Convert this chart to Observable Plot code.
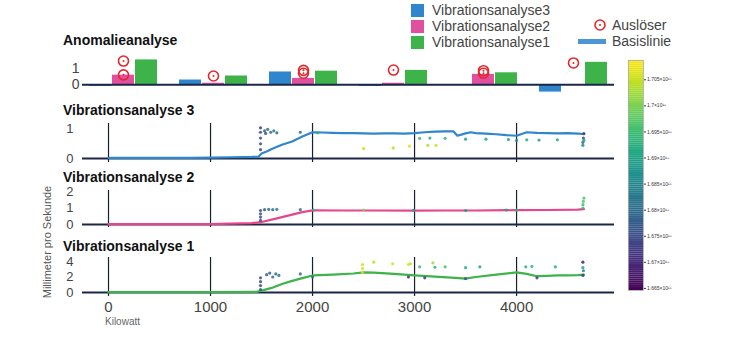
<!DOCTYPE html>
<html><head><meta charset="utf-8">
<script src="https://cdn.jsdelivr.net/npm/d3@7"></script>
<script src="https://cdn.jsdelivr.net/npm/@observablehq/plot@0.6"></script>
<style>
body{margin:0;background:#fff;}
#c{position:relative;width:730px;height:362px;overflow:hidden;font-family:"Liberation Sans",Arial,sans-serif;background:#fff;}
.t{position:absolute;left:63px;font-weight:bold;font-size:14px;color:#111;line-height:12px;white-space:nowrap;}
.lg{position:absolute;font-size:14px;color:#444;line-height:16px;white-space:nowrap;}
.sw{position:absolute;width:13px;height:13px;}
</style>
</head><body><div id="c"></div>
<script>
// ---------- data ----------
const groups = ["1","2","3","4","5","6"];
const series = ["Vibrationsanalyse3","Vibrationsanalyse2","Vibrationsanalyse1"];
const seriesColors = ["#2f86cc","#e0509f","#3db34a"];
const vib3Bars = [-0.1, 0.3, 0.8, -0.1, 0.0, -0.45];
const vib2Bars = [0.6, 0.1, 0.4, 0.1, 0.65, 0.02];
const vib1Bars = [1.55, 0.55, 0.85, 0.9, 0.75, 1.4];
const triggerGroups = ["1","1","2","3","3","4","5","5","6"];
const triggerValues = [0.62, 1.48, 0.55, 0.72, 0.9, 0.92, 0.72, 0.88, 1.36];

const xTicks = [0, 1000, 2000, 3000, 4000];

const vib3LineKW = [0,200,400,600,800,1000,1200,1400,1470,1500,1550,1600,1700,1800,1900,2000,2100,2200,2300,2400,2500,2600,2700,2800,2900,3000,3100,3200,3300,3380,3420,3500,3550,3600,3700,3800,3900,4000,4050,4100,4200,4300,4400,4500,4600,4660];
const vib3LineMM = [0.02,0.02,0.02,0.02,0.02,0.03,0.04,0.05,0.06,0.17,0.24,0.32,0.47,0.58,0.75,0.9,0.89,0.88,0.87,0.87,0.86,0.85,0.86,0.86,0.85,0.87,0.9,0.92,0.93,0.93,0.78,0.86,0.9,0.87,0.85,0.83,0.8,0.78,0.84,0.9,0.88,0.87,0.86,0.87,0.85,0.84];

const vib2LineKW = [0,500,1000,1200,1400,1500,1600,1700,1800,1900,2000,2300,2600,3000,3300,3600,4000,4300,4600,4660];
const vib2LineMM = [0.02,0.02,0.03,0.05,0.09,0.15,0.3,0.45,0.6,0.75,0.86,0.85,0.85,0.84,0.85,0.85,0.87,0.88,0.9,0.93];

const vib1LineKW = [0,500,1000,1450,1500,1600,1700,1800,1900,2000,2200,2400,2500,2600,2800,3000,3200,3400,3500,3600,3800,4000,4100,4200,4300,4400,4500,4600,4660];
const vib1LineMM = [0.05,0.05,0.05,0.1,0.25,0.6,1.1,1.5,1.85,2.2,2.3,2.45,2.6,2.55,2.4,2.2,2.05,1.9,1.8,2.0,2.3,2.6,2.4,2.1,2.15,2.2,2.2,2.25,2.3];

// scatter: kW, mm/s, value (x10^18)
const sc3KW  = [1490,1490,1490,1490,1490,1530,1560,1590,1620,1650,1540,1880,2050,2500,2790,2950,3130,3210,3050,3150,3300,3500,3700,3920,4000,4100,4220,4400,4650,4650,4655,4660,4660];
const sc3MM  = [0.3,0.5,0.7,0.9,1.05,0.95,1.0,0.9,0.95,0.88,0.86,0.9,0.88,0.34,0.36,0.42,0.45,0.45,0.69,0.7,0.69,0.66,0.66,0.65,0.62,0.64,0.63,0.64,0.45,0.55,0.7,0.85,0.62];
const sc3Val = [1.675,1.675,1.675,1.675,1.672,1.678,1.68,1.68,1.682,1.68,1.676,1.68,1.692,1.705,1.704,1.706,1.703,1.705,1.695,1.693,1.694,1.69,1.691,1.69,1.688,1.692,1.69,1.691,1.685,1.68,1.675,1.672,1.69];

const sc2KW  = [1490,1490,1490,1490,1530,1570,1610,1650,1880,2010,2500,2990,3500,3900,4000,4650,4650,4655,4660];
const sc2MM  = [0.25,0.45,0.65,0.85,0.9,0.92,0.9,0.92,0.9,0.88,0.88,0.86,0.85,0.88,0.87,1.0,1.2,1.4,1.6];
const sc2Val = [1.675,1.675,1.675,1.675,1.678,1.68,1.68,1.682,1.68,1.693,1.7,1.69,1.688,1.69,1.693,1.695,1.695,1.697,1.696];

const sc1KW  = [1490,1490,1490,1490,1550,1580,1610,1640,1670,1880,2000,2490,2490,2490,2600,2785,2940,2960,3180,3050,3200,3300,3500,3640,4090,4150,4380,4650,2940,3100,3500,4200,4650,4650,4655];
const sc1MM  = [0.4,0.9,1.4,1.9,2.3,2.5,2.0,2.4,2.2,2.4,2.0,2.6,3.1,3.6,3.9,3.7,3.6,3.7,3.8,3.3,3.25,3.3,3.2,3.3,3.3,3.35,3.3,3.2,2.0,1.9,1.8,1.9,3.9,2.2,2.8];
const sc1Val = [1.675,1.675,1.675,1.675,1.678,1.678,1.68,1.68,1.682,1.68,1.682,1.706,1.706,1.705,1.704,1.705,1.706,1.705,1.703,1.695,1.693,1.695,1.692,1.69,1.693,1.694,1.692,1.69,1.67,1.672,1.675,1.672,1.668,1.672,1.685];

const colorbarTicks = [1.665,1.67,1.675,1.68,1.685,1.69,1.695,1.7,1.705];
const colorDomain = [1.6646, 1.7087];

// ---------- layout helpers ----------
const C = document.getElementById("c");
const FONT = '"Liberation Sans", Arial, sans-serif';
const axisColor = "#1c2748";
const xDomain = [-255, 4960];
function place(svg, top, left = 0) {
  svg.style.position = "absolute";
  svg.style.top = top + "px";
  svg.style.left = left + "px";
  svg.style.background = "transparent";
  svg.style.overflow = "visible";
  svg.style.maxWidth = "none";
  C.appendChild(svg);
}
function addDiv(cls, text, css) {
  const d = document.createElement("div");
  d.className = cls; d.textContent = text;
  Object.assign(d.style, css);
  C.appendChild(d);
  return d;
}

// ---------- top panel: Anomalieanalyse ----------
const barRows = [];
groups.forEach((g, i) => {
  barRows.push({group: g, series: series[0], value: vib3Bars[i]});
  barRows.push({group: g, series: series[1], value: vib2Bars[i]});
  barRows.push({group: g, series: series[2], value: vib1Bars[i]});
});
const trigRows = triggerGroups.map((g, i) => ({group: g, series: series[1], value: triggerValues[i]}));
const topY = {domain: [-0.6, 1.7]};
const topPlot = Plot.plot({
  width: 730, height: 47, marginLeft: 82, marginRight: 116, marginTop: 7, marginBottom: 3,
  style: {fontFamily: FONT, fontSize: "14px", color: "#444"},
  fx: {domain: groups, paddingInner: 0.22, paddingOuter: 0.06, axis: null, label: null},
  x: {domain: series, padding: 0.03, axis: null},
  y: {...topY, ticks: [0, 1], tickFormat: d => String(d), tickSize: 0, tickPadding: 9, label: null},
  color: {domain: series, range: seriesColors},
  marks: [
    Plot.barY(barRows, {fx: "group", x: "series", y: "value", fill: "series"}),
    Plot.dot(trigRows, {fx: "group", x: "series", y: "value", r: 5, stroke: "#e3262c", strokeWidth: 1.6, fill: "none"}),
    Plot.dot(trigRows, {fx: "group", x: "series", y: "value", r: 1, fill: "#e3262c"})
  ]
});
place(topPlot, 50);
const topBase = Plot.plot({
  width: 730, height: 47, marginLeft: 82, marginRight: 116, marginTop: 7, marginBottom: 3,
  x: {domain: [0, 1], axis: null}, y: {...topY, axis: null},
  marks: [Plot.ruleY([0], {stroke: axisColor, strokeWidth: 2})]
});
place(topBase, 50);

// ---------- line panels ----------
function linePanel({top, height, mb, ydom, yticks, kw, mm, color, sKW, sMM, sVal, showX}) {
  const p = Plot.plot({
    width: 730, height, marginLeft: 82, marginRight: 116, marginTop: 5, marginBottom: mb,
    style: {fontFamily: FONT, fontSize: showX ? "15px" : "13px", color: "#444"},
    x: showX ? {domain: xDomain, ticks: xTicks, tickFormat: d => String(d), tickSize: 0, tickPadding: 5, label: null}
             : {domain: xDomain, axis: null},
    y: {domain: ydom, ticks: yticks, tickFormat: d => String(d), tickSize: 0, tickPadding: 9, label: null},
    color: {type: "linear", scheme: "viridis", domain: colorDomain},
    marks: [
      Plot.ruleX(xTicks, {stroke: "#1a1f2e", strokeWidth: 1.2}),
      Plot.ruleY([0], {stroke: axisColor, strokeWidth: 2}),
      Plot.line(kw, {x: kw, y: mm, stroke: color, strokeWidth: 2.2}),
      Plot.dot(sKW, {x: sKW, y: sMM, fill: sVal, r: 1.6, fillOpacity: 0.85})
    ]
  });
  if (showX) {
    // y tick labels at 13px even on the bottom panel
    p.querySelectorAll("[aria-label='y-axis tick label'] text, [aria-label='y-axis'] text").forEach(t => t.setAttribute("font-size", "13"));
  }
  place(p, top);
}
linePanel({top: 118, height: 49, mb: 5, ydom: [-0.14, 1.2], yticks: [0, 1], kw: vib3LineKW, mm: vib3LineMM, color: seriesColors[0], sKW: sc3KW, sMM: sc3MM, sVal: sc3Val});
linePanel({top: 185, height: 47, mb: 5, ydom: [-0.18, 2.06], yticks: [0, 1, 2], kw: vib2LineKW, mm: vib2LineMM, color: "#e8468c", sKW: sc2KW, sMM: sc2MM, sVal: sc2Val});
linePanel({top: 252, height: 68, mb: 24, ydom: [-0.5, 4.5], yticks: [0, 2, 4], kw: vib1LineKW, mm: vib1LineMM, color: seriesColors[2], sKW: sc1KW, sMM: sc1MM, sVal: sc1Val, showX: true});

// ---------- colorbar ----------
const cbSlices = d3.range(120).map(i => colorDomain[0] + (colorDomain[1] - colorDomain[0]) * i / 120);
const cbStep = (colorDomain[1] - colorDomain[0]) / 120;
const cb = Plot.plot({
  width: 100, height: 250, marginLeft: 28, marginRight: 57, marginTop: 10, marginBottom: 10,
  style: {fontFamily: FONT, fontSize: "5px", color: "#333"},
  x: {domain: [0, 1], axis: null},
  y: {domain: colorDomain, axis: "right", ticks: colorbarTicks, tickSize: 2, tickPadding: 1.5,
      tickFormat: d => (+d.toFixed(3)) + "×10¹⁸", label: null},
  color: {type: "linear", scheme: "viridis", domain: colorDomain},
  marks: [
    Plot.rect(cbSlices, {x1: 0, x2: 1, y1: d => d, y2: d => d + cbStep * 1.05, fill: d => d + cbStep / 2}),
    Plot.frame({stroke: "#aaa", strokeWidth: 0.8})
  ]
});
place(cb, 50, 600);

// ---------- texts ----------
addDiv("t", "Anomalieanalyse", {top: "34px"});
addDiv("t", "Vibrationsanalyse 3", {top: "104px"});
addDiv("t", "Vibrationsanalyse 2", {top: "171px"});
addDiv("t", "Vibrationsanalyse 1", {top: "240px"});
addDiv("lg", "Kilowatt", {left: "105px", top: "316px", fontSize: "10px", color: "#666", lineHeight: "12px"});
addDiv("lg", "Millimeter pro Sekunde", {left: "47px", top: "242px", fontSize: "11px", color: "#555", lineHeight: "12px",
  transform: "translate(-50%,-50%) rotate(-90deg)"});

// legend
series.forEach((s, i) => {
  const y = [10, 26, 42][i];
  const sw = document.createElement("div");
  sw.className = "sw";
  Object.assign(sw.style, {left: "411px", top: (y - 6.5) + "px", background: seriesColors[i]});
  C.appendChild(sw);
  addDiv("lg", s, {left: "432px", top: (y - 8) + "px"});
});
const ns = "http://www.w3.org/2000/svg";
const lsvg = document.createElementNS(ns, "svg");
lsvg.setAttribute("width", "14"); lsvg.setAttribute("height", "14");
Object.assign(lsvg.style, {position: "absolute", left: "593px", top: "18px"});
const c1 = document.createElementNS(ns, "circle");
c1.setAttribute("cx", "7"); c1.setAttribute("cy", "7"); c1.setAttribute("r", "5");
c1.setAttribute("fill", "none"); c1.setAttribute("stroke", "#e3262c"); c1.setAttribute("stroke-width", "1.6");
const c2 = document.createElementNS(ns, "circle");
c2.setAttribute("cx", "7"); c2.setAttribute("cy", "7"); c2.setAttribute("r", "1"); c2.setAttribute("fill", "#e3262c");
lsvg.appendChild(c1); lsvg.appendChild(c2); C.appendChild(lsvg);
addDiv("lg", "Auslöser", {left: "612px", top: "17px"});
const bl = document.createElement("div");
Object.assign(bl.style, {position: "absolute", left: "578px", top: "38.5px", width: "28px", height: "5px", background: "#4c96d7"});
C.appendChild(bl);
addDiv("lg", "Basislinie", {left: "612px", top: "33px"});
</script>
</body></html>
